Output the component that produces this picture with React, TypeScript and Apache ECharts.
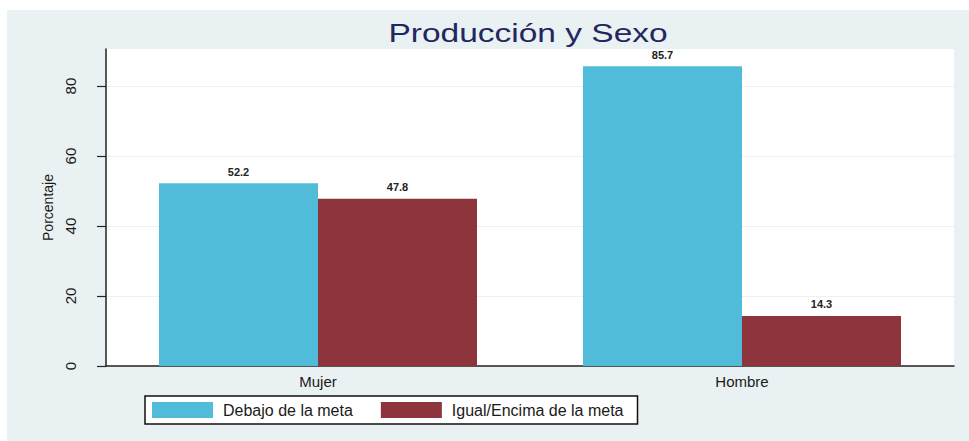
import React, { useEffect, useRef } from "react";
import * as echarts from "echarts";

const categories = ["Mujer", "Hombre"];
const seriesNames = ["Debajo de la meta", "Igual/Encima de la meta"];
const debajo = [52.2, 85.7];
const igual = [47.8, 14.3];
const yTicks = [0, 20, 40, 60, 80];
const titleText = "Producción y Sexo";
const yAxisName = "Porcentaje";

export default function App() {
  const ref = useRef<HTMLDivElement>(null);
  useEffect(() => {
    if (!ref.current) return;
    const chart = echarts.init(ref.current, null, { renderer: "svg" });
    const font = "'Liberation Sans', Arial, sans-serif";
    const barLabel = {
      show: true,
      position: "top",
      distance: 6,
      fontSize: 11,
      fontWeight: "bold",
      color: "#222",
      formatter: (p: any) => p.value.toFixed(1),
    };
    chart.setOption({
      animation: false,
      backgroundColor: "#ffffff",
      textStyle: { fontFamily: font },
      graphic: [
        {
          type: "rect",
          z: -10,
          shape: { x: 7, y: 10, width: 962, height: 431 },
          style: { fill: "#E9F1F3" },
          silent: true,
        },
        {
          type: "text",
          x: 528,
          y: 33,
          scaleX: 1.34,
          style: {
            text: titleText,
            font: "25px 'Liberation Sans', Arial, sans-serif",
            fill: "#23275E",
            textAlign: "center",
            textVerticalAlign: "middle",
          },
        },
      ],
      grid: {
        left: 106,
        right: 15,
        top: 49,
        bottom: 75,
        show: true,
        backgroundColor: "#ffffff",
        borderWidth: 0,
      },
      legend: {
        left: 145,
        top: 396,
        padding: [6, 14, 6, 7],
        itemGap: 28,
        itemWidth: 61,
        itemHeight: 16,
        backgroundColor: "#ffffff",
        borderColor: "#111111",
        borderWidth: 1.5,
        borderRadius: 0,
        icon: "rect",
        textStyle: {
          fontSize: 16,
          color: "#1a1a1a",
          fontFamily: font,
          padding: [0, 0, 0, 5],
        },
        data: seriesNames,
      },
      xAxis: {
        type: "category",
        data: categories,
        axisLine: { show: true, lineStyle: { color: "#222", width: 1.5 } },
        axisTick: { show: false },
        axisLabel: { fontSize: 15, color: "#1a1a1a", margin: 8, fontFamily: font },
      },
      yAxis: {
        type: "value",
        min: 0,
        max: 90.6,
        interval: 20,
        name: yAxisName,
        nameLocation: "middle",
        nameGap: 50,
        nameTextStyle: { fontSize: 14, color: "#1a1a1a", fontFamily: font },
        axisLine: { show: true, lineStyle: { color: "#222", width: 1.5 } },
        axisTick: {
          show: true,
          length: 9,
          lineStyle: { color: "#222", width: 1.2 },
          customValues: yTicks,
        },
        axisLabel: {
          rotate: 90,
          fontSize: 15,
          color: "#1a1a1a",
          margin: 28,
          customValues: yTicks,
          fontFamily: font,
        },
        splitLine: { show: true, lineStyle: { color: "#E9F1F3", width: 1 } },
      },
      series: [
        {
          name: seriesNames[0],
          type: "bar",
          data: debajo,
          barWidth: 159,
          barGap: "0%",
          itemStyle: { color: "#51BCDA" },
          label: barLabel,
        },
        {
          name: seriesNames[1],
          type: "bar",
          data: igual,
          barWidth: 159,
          barGap: "0%",
          itemStyle: { color: "#8E343C" },
          label: barLabel,
        },
      ],
    });
    return () => chart.dispose();
  }, []);
  return (
    <div
      ref={ref}
      style={{ position: "absolute", left: 0, top: 0, width: 969, height: 441 }}
    />
  );
}
